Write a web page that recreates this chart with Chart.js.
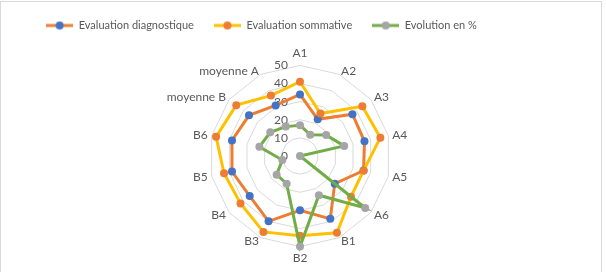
<!DOCTYPE html>
<html>
<head>
<meta charset="utf-8">
<script src="https://cdn.jsdelivr.net/npm/chart.js@4.4.0/dist/chart.umd.min.js"></script>
<style>
  html, body { margin: 0; padding: 0; background: #fff; }
  #wrap { width: 606px; height: 272px; position: relative; }
</style>
</head>
<body>
<div id="wrap"><canvas id="radar" width="606" height="272"></canvas></div>
<script>
const categories = ['A1', 'A2', 'A3', 'A4', 'A5', 'A6', 'B1', 'B2', 'B3', 'B4', 'B5', 'B6', 'moyenne B', 'moyenne A'];
const diagnostique = [34, 22.5, 37, 36.5, 36, 24.5, 38.5, 30, 40, 35.5, 38.5, 38.5, 36, 31];
const sommative = [41, 26, 44, 45.5, 36, 36, 47, 44, 46.5, 42, 43, 47.5, 45, 37];
const evolution = [17, 13, 18.5, 25, 0, 46, 24, 50, 17, 16.5, 10, 23, 21, 18];
const seriesNames = ['Evaluation diagnostique', 'Evaluation sommative', 'Evolution en %'];

const FONT = 'Lato, "Noto Sans", sans-serif';
const TEXT = '#595959';

function legendIcon(lineColor, dotColor) {
  const c = document.createElement('canvas');
  c.width = 27; c.height = 10;
  const g = c.getContext('2d');
  g.strokeStyle = lineColor;
  g.lineWidth = 3;
  g.beginPath(); g.moveTo(0, 5); g.lineTo(27, 5); g.stroke();
  g.fillStyle = dotColor;
  g.beginPath(); g.arc(13.5, 5, 4, 0, Math.PI * 2); g.fill();
  return c;
}

function series(label, data, line, dot, order) {
  return {
    label,
    data,
    borderColor: line,
    borderWidth: 3,
    backgroundColor: 'transparent',
    fill: false,
    pointBackgroundColor: dot,
    pointBorderColor: dot,
    pointBorderWidth: 0,
    pointRadius: 4,
    order,
    icon: legendIcon(line, dot),
  };
}

// value labels left of the A1 axis + category labels placed like Excel does
const axisText = {
  id: 'axisText',
  beforeDatasetsDraw(chart) {
    const s = chart.scales.r;
    const ctx = chart.ctx;
    ctx.save();
    ctx.font = '12px ' + FONT;
    ctx.fillStyle = TEXT;
    ctx.textAlign = 'right';
    ctx.textBaseline = 'middle';
    s.ticks.forEach((t) => {
      const d = s.getDistanceFromCenterForValue(t.value);
      ctx.fillText(String(t.value), s.xCenter - 12, s.yCenter - d);
    });
    chart.data.labels.forEach((lab, i) => {
      const p = s.getPointPosition(i, s.drawingArea + 4);
      const dx = p.x - s.xCenter;
      let y = p.y;
      if (dx > 3) ctx.textAlign = 'left';
      else if (dx < -3) ctx.textAlign = 'right';
      else {
        ctx.textAlign = 'center';
        y += p.y < s.yCenter ? -8 : 8;
      }
      ctx.fillText(lab, p.x, y);
    });
    ctx.restore();
  },
};

// Excel keeps the legend block a bit left of the middle
const legendShift = {
  id: 'legendShift',
  afterLayout(chart) {
    const lg = chart.legend;
    lg.right = lg.left + 523;
  },
};

const frame = {
  id: 'frame',
  afterDraw(chart) {
    const ctx = chart.ctx;
    ctx.save();
    ctx.strokeStyle = '#d9d9d9';
    ctx.lineWidth = 1;
    ctx.strokeRect(0.5, 1.5, 601, 280);
    ctx.restore();
  },
};

new Chart(document.getElementById('radar'), {
  type: 'radar',
  data: {
    labels: categories,
    datasets: [
      series(seriesNames[0], diagnostique, '#ED7D31', '#4472C4', 3),
      series(seriesNames[1], sommative, '#FFC000', '#ED7D31', 2),
      series(seriesNames[2], evolution, '#70AD47', '#A5A5A5', 1),
    ],
  },
  options: {
    responsive: false,
    animation: false,
    elements: { line: { tension: 0 } },
    layout: { padding: { top: 0, bottom: 0, left: 0, right: 6 } },
    plugins: {
      tooltip: { enabled: false },
      legend: {
        position: 'top',
        labels: {
          usePointStyle: true,
          pointStyleWidth: 27,
          padding: 20,
          color: TEXT,
          font: { family: FONT, size: 11 },
          generateLabels(chart) {
            return chart.data.datasets.map((ds, i) => ({
              text: ds.label,
              pointStyle: ds.icon,
              fillStyle: ds.borderColor,
              strokeStyle: ds.borderColor,
              lineWidth: 0,
              fontColor: TEXT,
              hidden: false,
              datasetIndex: i,
            }));
          },
        },
      },
    },
    scales: {
      r: {
        min: 0,
        max: 50,
        ticks: { stepSize: 10, display: false },
        grid: { circular: false, color: '#d9d9d9', lineWidth: 1 },
        angleLines: { display: false },
        // kept for sizing only, the visible labels come from axisText
        pointLabels: { color: 'transparent', font: { family: FONT, size: 12 }, padding: 10 },
      },
    },
  },
  plugins: [axisText, legendShift, frame],
});
</script>
</body>
</html>
